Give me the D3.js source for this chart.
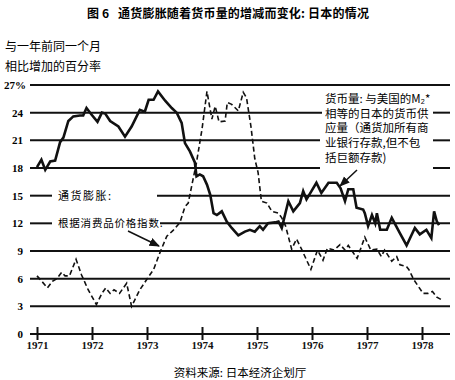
<!DOCTYPE html>
<html><head><meta charset="utf-8">
<script src="https://cdn.jsdelivr.net/npm/d3@7"></script>
<style>body{margin:0;background:#fff}svg{display:block}</style>
</head><body>
<svg id="c" width="455" height="380"></svg>
<script>
const yTicks = [0,3,6,9,12,15,18,21,24,27];
const yTickLabels = ["0","3","6","9","12","15","18","21","24","27%"];
const years = [1971,1972,1973,1974,1975,1976,1977,1978];

const moneyT = [1971.00,1971.08,1971.15,1971.24,1971.33,1971.42,1971.48,1971.57,1971.66,1971.78,1971.84,1971.90,1971.99,1972.10,1972.18,1972.24,1972.33,1972.48,1972.60,1972.72,1972.87,1972.96,1973.03,1973.12,1973.20,1973.33,1973.45,1973.54,1973.63,1973.69,1973.78,1973.87,1973.90,1973.96,1974.02,1974.09,1974.15,1974.21,1974.27,1974.36,1974.45,1974.54,1974.66,1974.78,1974.87,1974.96,1975.05,1975.11,1975.20,1975.33,1975.39,1975.45,1975.57,1975.66,1975.78,1975.84,1975.90,1975.99,1976.08,1976.17,1976.30,1976.45,1976.52,1976.60,1976.66,1976.75,1976.81,1976.93,1976.96,1977.02,1977.09,1977.15,1977.18,1977.24,1977.36,1977.45,1977.60,1977.72,1977.87,1977.96,1978.08,1978.17,1978.22,1978.27,1978.31];
const moneyV = [18.1,18.9,17.8,18.7,18.8,20.8,21.3,23.1,23.6,23.7,23.7,24.5,23.8,23.0,24.0,23.9,23.1,22.5,21.4,22.5,24.3,24.1,25.4,25.4,26.3,25.3,24.5,24.0,22.9,20.7,19.8,18.6,17.1,17.3,17.1,16.2,15.1,13.1,12.9,13.3,12.2,11.5,10.7,11.1,11.3,11.1,11.7,11.3,12.0,12.1,12.2,11.5,14.4,13.3,14.2,15.5,14.6,15.5,16.4,15.3,16.4,16.4,15.8,14.4,15.7,15.7,13.7,13.5,13.1,11.7,12.9,12.0,13.1,11.3,11.3,12.6,10.9,9.6,11.5,10.8,11.3,10.4,13.3,12.2,11.8];

const cpiT = [1971.00,1971.09,1971.19,1971.28,1971.36,1971.45,1971.51,1971.59,1971.71,1971.81,1971.93,1972.08,1972.18,1972.25,1972.33,1972.40,1972.50,1972.63,1972.72,1972.87,1973.05,1973.12,1973.24,1973.36,1973.47,1973.60,1973.69,1973.75,1973.78,1973.90,1974.00,1974.09,1974.18,1974.24,1974.31,1974.42,1974.46,1974.54,1974.66,1974.75,1974.81,1974.89,1974.96,1975.02,1975.08,1975.18,1975.27,1975.39,1975.45,1975.52,1975.63,1975.72,1975.81,1975.98,1976.10,1976.20,1976.28,1976.40,1976.51,1976.60,1976.66,1976.82,1976.90,1976.96,1977.07,1977.18,1977.26,1977.32,1977.45,1977.54,1977.60,1977.72,1977.76,1977.85,1978.02,1978.11,1978.19,1978.27,1978.36];
const cpiV = [6.3,5.7,5.0,5.7,6.0,6.7,6.3,6.3,8.1,6.4,4.8,3.2,4.4,5.0,4.4,4.8,4.4,5.5,3.0,4.8,6.4,7.0,8.9,10.6,11.2,12.1,13.8,14.2,15.1,18.6,22.2,26.3,23.3,24.7,23.0,23.1,25.1,24.9,24.2,26.2,25.6,22.5,19.0,17.5,14.4,14.2,13.3,13.1,12.6,11.7,9.2,10.3,9.2,7.0,9.1,8.0,9.3,9.1,9.7,9.1,9.6,8.2,9.5,10.5,9.1,9.2,8.4,9.1,7.9,8.4,7.5,7.3,7.0,5.9,4.4,4.4,4.6,4.0,3.7];

const titleText = "图 6   通货膨胀随着货币量的增减而变化: 日本的情况";
const yLabel = ["与一年前同一个月","相比增加的百分率"];
const cpiLabel = ["通货膨胀:","根据消费品价格指数."];
const moneyLabel = ["货币量: 与美国的M₂*","相等的日本的货币供","应量（通货加所有商","业银行存款,但不包","括巨额存款)"];
const sourceText = "资料来源: 日本经济企划厅";

const svg = d3.select("#c");
const x = d3.scaleLinear().domain([1971,1978]).range([37,422]);
const y = d3.scaleLinear().domain([0,27]).range([334,85]);
const CJK = "'Noto Sans CJK SC', sans-serif";
const NUM = "'Liberation Serif', 'DejaVu Serif', serif";

svg.append("rect").attr("width",455).attr("height",380).attr("fill","#fff");

// title
svg.append("text").attr("x",228).attr("y",18).attr("text-anchor","middle")
  .attr("font-family",CJK).attr("font-size",12).attr("font-weight","bold")
  .attr("letter-spacing",0.2)
  .attr("xml:space","preserve").style("white-space","pre").text(titleText);

// y label
yLabel.forEach((t,i)=>svg.append("text").attr("x",5).attr("y",51+i*20)
  .attr("font-family",CJK).attr("font-size",12).text(t));

// gridlines (with gaps for labels)
const gaps = {15:[[30,52],[157,450]],12:[[30,52],[160,450]],18:[[30,320],[433,450]],21:[[30,320],[433,450]],24:[[30,322],[433,450]]};
yTicks.forEach(v=>{
  const segs = gaps[v] || [[30,450]];
  segs.forEach(s=>svg.append("line").attr("x1",s[0]).attr("x2",s[1])
    .attr("y1",y(v)).attr("y2",y(v)).attr("stroke","#111").attr("stroke-width",2));
});

// y tick labels
yTicks.forEach((v,i)=>svg.append("text").attr("x",v===27?26:23).attr("y",y(v)+4)
  .attr("text-anchor","end").attr("font-family",NUM).attr("font-size",11)
  .attr("font-weight","bold").text(yTickLabels[i]));

// x axis
const xAxis = d3.axisBottom(x).tickValues(years).tickFormat(d3.format("d"))
  .tickSize(6).tickPadding(1);
const gx = svg.append("g").attr("transform",`translate(0,${y(0)})`).call(xAxis);
gx.select(".domain").remove();
gx.selectAll(".tick line").attr("y1",-7).attr("stroke","#111").attr("stroke-width",2);
gx.selectAll(".tick text").attr("font-family",NUM).attr("font-size",11)
  .attr("font-weight","bold").attr("fill","#111");

// lines
const lineGen = d3.line().x(d=>x(d[0])).y(d=>y(d[1]));
svg.append("path").datum(cpiT.map((t,i)=>[t,cpiV[i]])).attr("d",lineGen)
  .attr("fill","none").attr("stroke","#111").attr("stroke-width",1.6)
  .attr("stroke-dasharray","5,3");
svg.append("path").datum(moneyT.map((t,i)=>[t,moneyV[i]])).attr("d",lineGen)
  .attr("fill","none").attr("stroke","#111").attr("stroke-width",2.6)
  .attr("stroke-linejoin","miter");

// CPI label
svg.append("text").attr("x",58).attr("y",200).attr("font-family",CJK)
  .attr("font-size",11).attr("letter-spacing",1.5).text(cpiLabel[0]);
svg.append("text").attr("x",58).attr("y",227).attr("font-family",CJK)
  .attr("font-size",10.5).attr("letter-spacing",0.8).text(cpiLabel[1]);

// arrows
const defs = svg.append("defs");
defs.append("marker").attr("id","ah").attr("viewBox","0 0 10 10").attr("refX",9).attr("refY",5)
  .attr("markerWidth",7).attr("markerHeight",7).attr("orient","auto")
  .append("path").attr("d","M0,1 L10,5 L0,9 z").attr("fill","#111");
svg.append("line").attr("x1",128).attr("y1",231).attr("x2",159).attr("y2",246)
  .attr("stroke","#111").attr("stroke-width",1.5).attr("marker-end","url(#ah)");
svg.append("line").attr("x1",357).attr("y1",170).attr("x2",340).attr("y2",186)
  .attr("stroke","#111").attr("stroke-width",1.5).attr("marker-end","url(#ah)");

// money label
moneyLabel.forEach((t,i)=>svg.append("text").attr("x",325).attr("y",103+i*14.7)
  .attr("font-family",CJK).attr("font-size",11.5).text(t));

// source
svg.append("text").attr("x",240).attr("y",377).attr("text-anchor","middle")
  .attr("font-family",CJK).attr("font-size",11.5).text(sourceText);
</script>
</body></html>
